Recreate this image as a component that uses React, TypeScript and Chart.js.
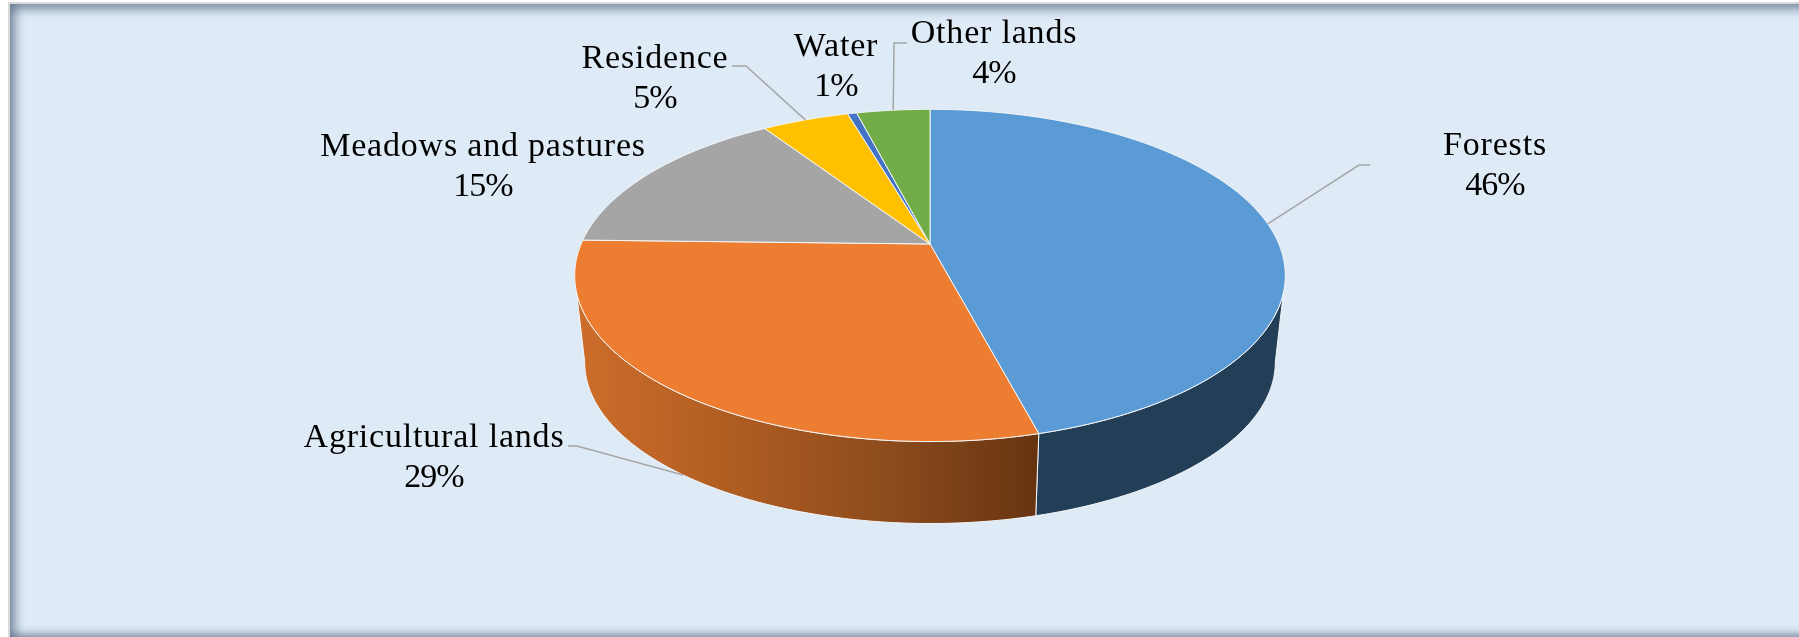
import React, { useEffect, useRef } from "react";
import { Chart, registerables, ArcElement, PieController } from "chart.js";

const categories = ["Forests", "Agricultural lands", "Meadows and pastures", "Residence", "Water", "Other lands"];
const values = [45.9, 29.49, 15.36, 4.75, 0.5, 4];
const faceColors = ["#5B9BD5", "#ED7D31", "#A5A5A5", "#FFC000", "#4472C4", "#70AD47"];
const labelCenterX = [1495, 434, 483, 655, 836, 994];
const labelBaselineY = [155, 447, 156, 68, 56, 43];
const leaderBends: ([number, number][] | null)[] = [
  [[1359, 165], [1370, 165]],
  [[577, 446], [568, 446]],
  null,
  [[746, 66], [732, 66]],
  null,
  [[894, 43], [907, 43]],
];

const W = 1799;
const H = 637;
const PIE_X = 930;
const PIE_Y = 244;
const CHART_R = 240;
const PERSP = 0.1892;
const FACE_A = 349.6 / CHART_R;
const FACE_B = 160.5 / CHART_R;
const BASE_SCALE = 0.972;
const BASE_DY = 87.5;
const TOP_TANGENT = (16.7 * Math.PI) / 180;
const BASE_TANGENT = (10.9 * Math.PI) / 180;
const FONT = "34px 'Liberation Serif'";

type Pt = [number, number];
function project(el: any, angle: number, base: boolean): Pt {
  const c = Math.cos(angle);
  const s = Math.sin(angle);
  const w = 1 - PERSP * s;
  const k = base ? BASE_SCALE : 1;
  const r = el.outerRadius;
  return [
    el.x + (k * FACE_A * r * c) / w,
    el.y + (base ? BASE_DY : 0) + (k * FACE_B * r * s) / w,
  ];
}
function curve(ctx: CanvasRenderingContext2D, el: any, from: number, to: number, base: boolean, move: boolean) {
  const n = Math.max(2, Math.ceil(Math.abs(to - from) * 90));
  for (let i = 0; i <= n; i++) {
    const p = project(el, from + ((to - from) * i) / n, base);
    if (i === 0 && move) ctx.moveTo(p[0], p[1]);
    else ctx.lineTo(p[0], p[1]);
  }
}

class PerspectiveArc extends ArcElement {
  static id = "perspectiveArc";
  drawWall(ctx: CanvasRenderingContext2D) {
    const el: any = this;
    const topFrom = Math.max(el.startAngle, TOP_TANGENT);
    const topTo = Math.min(el.endAngle, Math.PI - TOP_TANGENT);
    const baseFrom = Math.max(el.startAngle, BASE_TANGENT);
    const baseTo = Math.min(el.endAngle, Math.PI - BASE_TANGENT);
    if (topTo <= topFrom) return;
    ctx.save();
    ctx.beginPath();
    curve(ctx, el, topFrom, topTo, false, true);
    curve(ctx, el, baseTo, baseFrom, true, false);
    ctx.closePath();
    if (el.$context.index === 1) {
      const g = ctx.createLinearGradient(578, 0, 1036, 0);
      g.addColorStop(0, "#CD6D2A");
      g.addColorStop(0.35, "#AE5C22");
      g.addColorStop(0.7, "#8A4A1C");
      g.addColorStop(1, "#673410");
      ctx.fillStyle = g;
    } else {
      ctx.fillStyle = "#233F58";
    }
    ctx.fill();
    ctx.strokeStyle = "#F4F6F8";
    ctx.lineWidth = 1;
    ctx.stroke();
    ctx.restore();
  }
  draw(ctx: CanvasRenderingContext2D) {
    const el: any = this;
    ctx.save();
    ctx.beginPath();
    ctx.moveTo(el.x, el.y);
    curve(ctx, el, el.startAngle, el.endAngle, false, false);
    ctx.closePath();
    ctx.fillStyle = el.options.backgroundColor;
    ctx.fill();
    ctx.strokeStyle = el.options.borderColor;
    ctx.lineWidth = el.options.borderWidth;
    ctx.lineJoin = "round";
    ctx.stroke();
    ctx.restore();
  }
}

class Pie3DController extends PieController {
  static id = "pie3d";
  static defaults = { ...PieController.defaults, dataElementType: "perspectiveArc" };
  static overrides = PieController.overrides;
}

Chart.register(...registerables, PerspectiveArc, Pie3DController);

const wallsAndLabels = {
  id: "wallsAndLabels",
  beforeDatasetsDraw(chart: any) {
    const ctx = chart.ctx;
    chart.getDatasetMeta(0).data.forEach((el: any) => el.drawWall(ctx));
  },
  afterDatasetsDraw(chart: any) {
    const ctx: CanvasRenderingContext2D = chart.ctx;
    const meta = chart.getDatasetMeta(0);
    meta.data.forEach((el: any, i: number) => {
      const mid = (el.startAngle + el.endAngle) / 2;
      const bends = leaderBends[i];
      if (bends) {
        // A leader ends on the wall when the slice's middle faces the viewer.
        const onWall = Math.sin(mid) > 0.5;
        const a = project(el, mid, onWall);
        ctx.save();
        ctx.beginPath();
        ctx.moveTo(a[0], a[1]);
        bends.forEach((b) => ctx.lineTo(b[0], b[1]));
        ctx.strokeStyle = "#A6A6A6";
        ctx.lineWidth = 1.5;
        ctx.stroke();
        ctx.restore();
      }
      ctx.save();
      ctx.font = FONT;
      ctx.fillStyle = "#000";
      ctx.textAlign = "center";
      ctx.textBaseline = "alphabetic";
      (ctx as any).letterSpacing = "0.8px";
      ctx.fillText(categories[i], labelCenterX[i], labelBaselineY[i]);
      (ctx as any).letterSpacing = "-1px";
      ctx.fillText(`${Math.round(values[i])}%`, labelCenterX[i], labelBaselineY[i] + 40);
      ctx.restore();
    });
  },
};

export default function App() {
  const ref = useRef<HTMLCanvasElement>(null);
  useEffect(() => {
    document.body.style.margin = "0";
    document.body.style.background = "#fff";
    const chart = new Chart(ref.current!, {
      type: "pie3d" as any,
      data: {
        labels: categories,
        datasets: [{ data: values, backgroundColor: faceColors, borderColor: "#F4F6F8", borderWidth: 1 }],
      },
      options: {
        responsive: false,
        animation: false,
        layout: {
          padding: {
            left: PIE_X - CHART_R,
            right: W - PIE_X - CHART_R,
            top: PIE_Y - CHART_R,
            bottom: H - PIE_Y - CHART_R,
          },
        },
        plugins: { legend: { display: false }, tooltip: { enabled: false } },
      } as any,
      plugins: [wallsAndLabels],
    });
    return () => chart.destroy();
  }, []);
  return (
    <div style={{ position: "absolute", left: 0, top: 0, width: W, height: H, overflow: "hidden", background: "#fff" }}>
      <div
        style={{
          position: "absolute",
          left: 8,
          top: 2,
          width: W,
          height: H - 2,
          boxSizing: "border-box",
          borderTop: "2px solid #DADADA",
          borderLeft: "2px solid #DADADA",
          background: "#DEEAF6",
          boxShadow:
            "inset 10px 0 10px -4px rgba(85,105,130,0.62), inset 0 10px 10px -4px rgba(85,105,130,0.62), inset 0 -7px 7px -3px rgba(85,105,130,0.55)",
        }}
      />
      <canvas ref={ref} width={W} height={H} style={{ position: "absolute", left: 0, top: 0, display: "block" }} />
    </div>
  );
}
